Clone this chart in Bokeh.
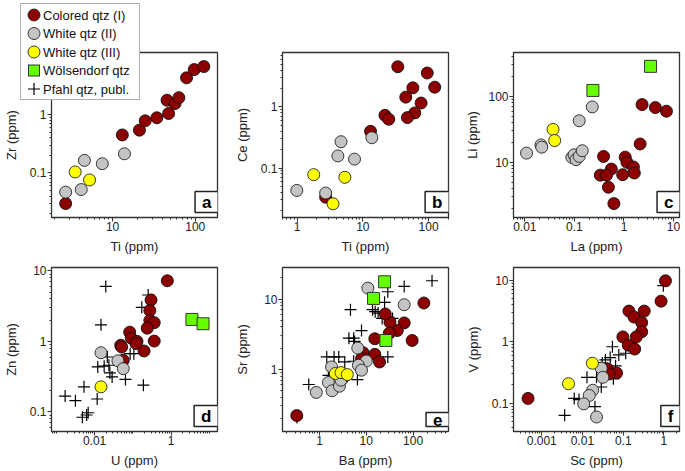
from bokeh.plotting import figure
from bokeh.models import Range1d, FixedTicker, NumeralTickFormatter, Label, GridBox, Div
from bokeh.embed import file_html
from bokeh.resources import INLINE

# ---------------- data (ppm) ----------------
# panel a: Ti vs Zr
a_red_x = [2.7, 13.1, 21.1, 24.8, 34.3, 47.6, 45.6, 57, 63.4, 78.5, 97.3, 127]
a_red_y = [0.030, 0.447, 0.54, 0.78, 0.88, 1.04, 1.75, 1.54, 1.94, 4.24, 5.87, 6.6]
a_grey_x = [2.7, 4.56, 4.17, 7.5, 13.9]
a_grey_y = [0.047, 0.164, 0.052, 0.144, 0.213]
a_yel_x = [3.52, 5.26]
a_yel_y = [0.104, 0.076]

# panel b: Ti vs Ce
b_red_x = [34, 95.5, 57.7, 124, 45, 77, 61.7, 47.7, 21.7, 24.8, 13.1, 2.72]
b_red_y = [4.56, 3.6, 2.06, 2.11, 1.45, 1.16, 0.80, 0.67, 0.73, 0.63, 0.40, 0.0334]
b_grey_x = [0.99, 2.72, 4.17, 4.66, 7.47, 13.7]
b_grey_y = [0.043, 0.039, 0.158, 0.27, 0.14, 0.314]
b_yel_x = [1.79, 5.33, 3.52]
b_yel_y = [0.078, 0.0706, 0.026]

# panel c: La vs Li
c_red_x = [2.32, 4.3, 7.2, 2.12, 0.387, 1.06, 1.15, 1.55, 1.62, 0.556, 0.333, 0.444, 0.94, 0.485, 0.626]
c_red_y = [75, 67.6, 59.6, 19, 12.3, 12.0, 10, 8.5, 6.9, 7.9, 6.4, 6.4, 6.5, 4.2, 2.37]
c_grey_x = [0.0108, 0.0212, 0.0219, 0.0887, 0.0985, 0.108, 0.125, 0.144, 0.125, 0.229]
c_grey_y = [13.8, 18.4, 17, 11.9, 13, 11, 12.3, 15, 42.7, 69.2]
c_yel_x = [0.037, 0.040]
c_yel_y = [31.6, 21.4]
c_grn_x = [0.236, 3.44]
c_grn_y = [123, 285]

# panel d: U vs Zn
d_red_x = [0.794, 0.298, 0.277, 0.277, 0.361, 0.237, 0.361, 0.0826, 0.0908, 0.128, 0.121, 0.196, 0.048, 0.051, 0.056]
d_red_y = [7.26, 3.88, 2.74, 1.98, 1.84, 1.54, 1.01, 1.35, 1.11, 1.0, 0.93, 0.73, 0.88, 0.83, 0.54]
d_grey_x = [0.0147, 0.0406, 0.056]
d_grey_y = [0.69, 0.53, 0.41]
d_yel_x = [0.0147]
d_yel_y = [0.226]
d_grn_x = [3.48, 6.8]
d_grn_y = [2.05, 1.78]
d_pub_x = [0.0196, 0.0147, 0.251, 0.171, 0.106, 0.085, 0.0215, 0.0121, 0.0178, 0.0237, 0.0251,
           0.0287, 0.064, 0.188, 0.0053, 0.0017, 0.00316, 0.0117, 0.0048, 0.0062, 0.0068]
d_pub_y = [6.03, 1.72, 4.56, 3.05, 0.67, 0.67, 0.60, 0.434, 0.444, 0.458, 0.357,
           0.313, 0.288, 0.239, 0.226, 0.167, 0.144, 0.152, 0.0836, 0.090, 0.097]

# panel e: Ba vs Sr
e_red_x = [0.327, 170, 95.5, 64.6, 45.9, 32.1, 31.1, 25.4, 15.2, 15.2, 19.2, 8.56, 7.92, 3.11]
e_red_y = [0.219, 8.78, 2.57, 4.57, 3.56, 4.68, 3.27, 6.13, 2.72, 1.63, 1.27, 1.72, 1.42, 0.738]
e_grey_x = [10.8, 64.6, 6.57, 10, 6.78, 7.9, 1.81, 1.55, 1.86, 2.67, 0.855, 2.88]
e_grey_y = [14.3, 8.3, 2.0, 1.31, 1.14, 0.97, 1.08, 0.647, 0.494, 0.574, 0.468, 0.70]
e_yel_x = [2.18, 2.88, 3.93]
e_yel_y = [0.87, 0.897, 0.84]
e_grn_x = [24.6, 14.3, 26.2]
e_grn_y = [17.6, 10.2, 2.57]
e_pub_x = [0.33, 0.59, 1.43, 2.05, 2.58, 1.55, 3.47, 4.25, 5.37, 5.62, 6.46, 7.9, 4.59, 13.6, 15.5,
           17.9, 21.8, 29.7, 36.4, 24.6, 28.8, 64.6, 254, 28.8, 5.37]
e_pub_y = [0.205, 0.607, 1.5, 1.5, 1.5, 0.82, 1.27, 2.77, 2.77, 2.49, 0.714, 3.56, 7.06, 7.06, 6.6,
           6.3, 5.3, 5.5, 5.3, 8.97, 12.7, 15.1, 18.2, 1.5, 1.3]

# panel f: Sc vs V
f_red_x = [0.00046, 1.09, 0.85, 0.138, 0.328, 0.184, 0.284, 0.284, 0.209, 0.098, 0.133, 0.191, 0.0686, 0.0414, 0.0453]
f_red_y = [0.12, 9.8, 4.57, 3.15, 3.15, 2.52, 2.05, 1.45, 1.2, 1.2, 0.88, 0.76, 0.31, 0.36, 0.30]
f_grey_x = [0.0289, 0.0316, 0.0178, 0.0146, 0.0107, 0.0221]
f_grey_y = [0.372, 0.264, 0.163, 0.134, 0.098, 0.0599]
f_yel_x = [0.0175, 0.00453]
f_yel_y = [0.448, 0.208]
f_pub_x = [0.00365, 0.00626, 0.0082, 0.0202, 0.0129, 0.0221, 0.0289, 0.0305, 0.0365, 0.0478,
           0.0542, 0.065, 0.0573, 0.0778, 0.115, 0.965]
f_pub_y = [0.0637, 0.12, 0.115, 0.088, 0.264, 0.264, 0.184, 0.45, 0.507, 0.553,
           0.83, 0.406, 0.251, 0.61, 0.65, 8.16]

legend_labels = ["Colored qtz (I)", "White qtz (II)", "White qtz (III)", "Wölsendorf qtz", "Pfahl qtz, publ."]
legend_markers = ["circle", "circle", "circle", "square", "cross"]

# ---------------- styling ----------------
RED = "#8E0000"
GREY = "#C4C4C4"
YEL = "#FFFF00"
GRN = "#66FF00"
legend_colors = [RED, GREY, YEL, GRN, "black"]
FONT = "Liberation Sans"
FW, FH = 171, 165
BL = 46


def decade_minor(lo_exp, hi_exp):
    out = []
    for e in range(lo_exp, hi_exp + 1):
        for m in range(2, 10):
            out.append(m * 10.0 ** e)
    return out


def make_fig(col, rw, xr, yr, xt, yt, xlab, ylab, ystandoff, xminor=None, yminor=None):
    br = 14 if col < 2 else 4
    bt = 52 if rw == 0 else 11
    bb = 39 if rw == 0 else 38
    p = figure(width=BL + FW + br, height=bt + FH + bb,
               x_axis_type="log", y_axis_type="log",
               x_range=Range1d(*xr), y_range=Range1d(*yr),
               toolbar_location=None, output_backend="svg",
               min_border_left=BL, min_border_right=br,
               min_border_top=bt, min_border_bottom=bb)
    p.grid.visible = False
    p.outline_line_color = "#333333"
    p.outline_line_width = 1.3
    p.outline_line_alpha = 1.0
    p.background_fill_color = "white"
    p.border_fill_color = "white"
    p.xaxis.ticker = FixedTicker(ticks=xt, minor_ticks=xminor if xminor else decade_minor(-5, 3))
    p.yaxis.ticker = FixedTicker(ticks=yt, minor_ticks=yminor if yminor else decade_minor(-5, 3))
    for ax in (p.xaxis[0], p.yaxis[0]):
        ax.formatter = NumeralTickFormatter(format="0.[000]")
        ax.axis_line_color = "#333333"
        ax.axis_line_width = 1.0
        ax.major_tick_line_color = "#333333"
        ax.minor_tick_line_color = "#333333"
        ax.major_tick_out = 4
        ax.major_tick_in = 0
        ax.minor_tick_out = 2
        ax.minor_tick_in = 0
        ax.major_label_text_font = FONT
        ax.major_label_text_font_size = "12px"
        ax.major_label_text_color = "#222222"
        ax.axis_label_text_font = FONT
        ax.axis_label_text_font_size = "13px"
        ax.axis_label_text_font_style = "normal"
        ax.axis_label_text_color = "#222222"
    p.xaxis.major_label_standoff = 0
    p.xaxis.axis_label_standoff = 5
    p.yaxis.major_label_standoff = 1
    p.yaxis.axis_label_standoff = ystandoff
    p.xaxis.axis_label = xlab
    p.yaxis.axis_label = ylab
    return p


def add_points(p, red=None, grey=None, yel=None, grn=None, pub=None):
    if pub:
        p.scatter(pub[0], pub[1], marker="cross", size=12, line_color="black", line_width=1.2)
    if red:
        p.scatter(red[0], red[1], marker="circle", size=12, fill_color=RED, line_color="#111111", line_width=0.9)
    if grey:
        p.scatter(grey[0], grey[1], marker="circle", size=12, fill_color=GREY, line_color="#222222", line_width=0.9)
    if yel:
        p.scatter(yel[0], yel[1], marker="circle", size=12, fill_color=YEL, line_color="#222222", line_width=0.9)
    if grn:
        p.scatter(grn[0], grn[1], marker="square", size=12, fill_color=GRN, line_color="#222222", line_width=0.9)


def add_letter(p, letter):
    p.add_layout(Label(x=FW - 4, y=5, x_units="screen", y_units="screen", text=letter,
                       anchor="bottom_right", text_font=FONT, text_font_style="bold",
                       text_font_size="17px", text_color="black",
                       background_fill_color="white", border_line_color="#222222",
                       border_line_width=1.5, padding=(7, 1)))


pa = make_fig(0, 0, (1.82, 186), (0.0173, 11.5), [10, 100], [0.1, 1], "Ti (ppm)", "Zr (ppm)", 8)
add_points(pa, red=(a_red_x, a_red_y), grey=(a_grey_x, a_grey_y), yel=(a_yel_x, a_yel_y))
add_letter(pa, "a")

pb = make_fig(1, 0, (0.6, 201), (0.0155, 7.8), [1, 10, 100], [0.1, 1], "Ti (ppm)", "Ce (ppm)", 8)
add_points(pb, red=(b_red_x, b_red_y), grey=(b_grey_x, b_grey_y), yel=(b_yel_x, b_yel_y))
add_letter(pb, "b")

pc = make_fig(2, 0, (0.0059, 13.2), (1.46, 462), [0.01, 0.1, 1, 10], [10, 100], "La (ppm)", "Li (ppm)", 5)
add_points(pc, red=(c_red_x, c_red_y), grey=(c_grey_x, c_grey_y), yel=(c_yel_x, c_yel_y), grn=(c_grn_x, c_grn_y))
add_letter(pc, "c")

pd_ = make_fig(0, 1, (0.00075, 16.2), (0.0525, 11.2), [0.01, 1], [0.1, 1, 10], "U (ppm)", "Zn (ppm)", 8,
               xminor=[0.001, 0.1, 10] + decade_minor(-4, 1))
add_points(pd_, red=(d_red_x, d_red_y), grey=(d_grey_x, d_grey_y), yel=(d_yel_x, d_yel_y),
           grn=(d_grn_x, d_grn_y), pub=(d_pub_x, d_pub_y))
add_letter(pd_, "d")

pe = make_fig(1, 1, (0.162, 571), (0.13, 28.1), [1, 10, 100], [1, 10], "Ba (ppm)", "Sr (ppm)", 11)
add_points(pe, red=(e_red_x, e_red_y), grey=(e_grey_x, e_grey_y), yel=(e_yel_x, e_yel_y),
           grn=(e_grn_x, e_grn_y), pub=(e_pub_x, e_pub_y))
add_letter(pe, "e")

pf = make_fig(2, 1, (0.000202, 2.41), (0.0348, 16.1), [0.001, 0.01, 0.1, 1], [0.1, 1, 10], "Sc (ppm)", "V (ppm)", 8)
add_points(pf, red=(f_red_x, f_red_y), grey=(f_grey_x, f_grey_y), yel=(f_yel_x, f_yel_y), pub=(f_pub_x, f_pub_y))
add_letter(pf, "f")

# ---------------- legend box (overlay over the top-left of panel a) ----------------
LW, LHT, ROW_H, Y0 = 120, 97, 18.5, 12
parts = ['<svg xmlns="http://www.w3.org/2000/svg" width="%d" height="%d">' % (LW, LHT),
         '<rect x="0.5" y="0.5" width="%d" height="%d" fill="white" stroke="#B0B0B0" stroke-width="1"/>' % (LW - 1, LHT - 1)]
for i, (lab, mk, colr) in enumerate(zip(legend_labels, legend_markers, legend_colors)):
    cy = Y0 + ROW_H * i
    if mk == "circle":
        parts.append('<circle cx="14" cy="%.1f" r="6" fill="%s" stroke="#222" stroke-width="0.9"/>' % (cy, colr))
    elif mk == "square":
        parts.append('<rect x="8.5" y="%.1f" width="11" height="11" fill="%s" stroke="#222" stroke-width="0.9"/>' % (cy - 5.5, colr))
    else:
        parts.append('<path d="M14 %.1f V%.1f M8 %.1f H20" stroke="black" stroke-width="1.2" fill="none"/>' % (cy - 6, cy + 6, cy))
    parts.append('<text x="23" y="%.1f" dominant-baseline="central" font-family="Liberation Sans, Arial, sans-serif" '
                 'font-size="13px" fill="#111">%s</text>' % (cy, lab))
parts.append('</svg>')
legend_div = Div(text="".join(parts), width=LW, height=LHT, margin=(3, 0, 0, 20),
                 styles={"z-index": "5"})

grid = GridBox(children=[(pa, 0, 0), (pb, 0, 1), (pc, 0, 2),
                         (pd_, 1, 0), (pe, 1, 1), (pf, 1, 2),
                         (legend_div, 0, 0)], spacing=0)
open("out.html", "w", encoding="utf-8").write(file_html(grid, INLINE))
